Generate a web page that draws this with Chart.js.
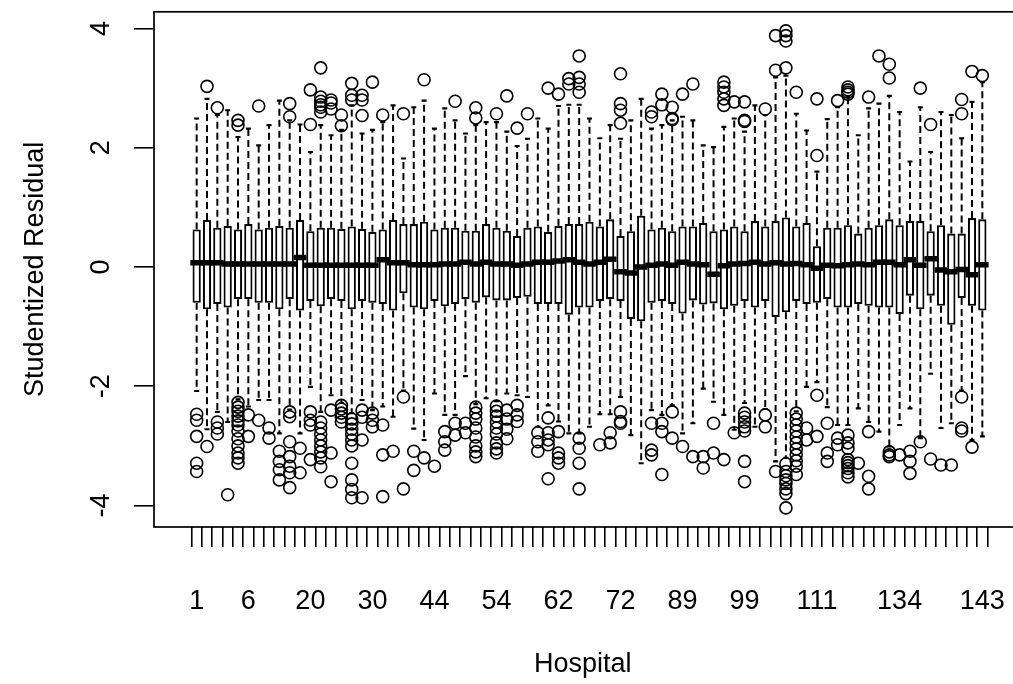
<!DOCTYPE html>
<html>
<head>
<meta charset="utf-8">
<script src="https://cdn.jsdelivr.net/npm/chart.js@4.4.0/dist/chart.umd.min.js"></script>
<style>
  html, body { margin: 0; padding: 0; background: #fff; overflow: hidden; }
  #wrap { position: relative; width: 1040px; height: 684px; }
</style>
</head>
<body>
<div id="wrap"><canvas id="c" width="1040" height="684"></canvas></div>
<script>
// Hospital identifiers, one box per hospital
const hospitals = [1,2,3,4,5,6,8,11,13,15,17,20,21,23,25,27,28,30,32,35,37,40,42,44,45,47,49,51,52,54,
  55,57,58,59,60,62,63,65,67,69,70,72,75,78,81,84,86,89,91,93,95,96,97,99,100,102,104,106,108,109,
  111,113,116,119,122,125,128,131,134,135,136,137,138,139,140,142,143];

// Hospitals whose id is printed under the axis
const shownLabels = [1,6,20,30,44,54,62,72,89,99,111,134,143];

const yTicks = [-4, -2, 0, 2, 4];

// Box statistics of the studentized residuals
const q3 = [0.63,0.79,0.66,0.69,0.63,0.72,0.63,0.66,0.69,0.66,
  0.79,0.60,0.66,0.66,0.64,0.68,0.64,0.59,0.63,0.79,
  0.72,0.72,0.76,0.63,0.66,0.66,0.61,0.61,0.72,0.66,
  0.61,0.52,0.66,0.68,0.59,0.69,0.72,0.72,0.76,0.68,
  0.80,0.52,0.60,0.86,0.63,0.66,0.60,0.68,0.68,0.74,
  0.60,0.63,0.68,0.60,0.77,0.68,0.77,0.83,0.68,0.74,
  0.35,0.66,0.66,0.70,0.56,0.66,0.70,0.80,0.70,0.77,
  0.77,0.60,0.70,0.56,0.56,0.82,0.80];

const q1 = [-0.60,-0.71,-0.62,-0.68,-0.54,-0.54,-0.60,-0.60,-0.71,-0.54,
  -0.73,-0.57,-0.66,-0.54,-0.57,-0.71,-0.57,-0.60,-0.62,-0.73,
  -0.44,-0.68,-0.71,-0.57,-0.66,-0.62,-0.54,-0.60,-0.51,-0.56,
  -0.56,-0.52,-0.50,-0.62,-0.62,-0.62,-0.80,-0.68,-0.68,-0.57,
  -0.54,-0.57,-0.87,-0.91,-0.60,-0.57,-0.62,-0.78,-0.56,-0.63,
  -0.61,-0.71,-0.65,-0.57,-0.68,-0.57,-0.84,-0.76,-0.57,-0.62,
  -0.60,-0.54,-0.68,-0.68,-0.62,-0.65,-0.68,-0.68,-0.79,-0.48,
  -0.71,-0.48,-0.65,-0.97,-0.52,-0.65,-0.73];

const medians = [0.07,0.07,0.07,0.05,0.05,0.05,0.05,0.05,0.05,0.05,
  0.16,0.03,0.03,0.03,0.03,0.03,0.03,0.03,0.12,0.07,
  0.07,0.04,0.04,0.04,0.05,0.05,0.08,0.05,0.08,0.05,
  0.05,0.03,0.05,0.08,0.08,0.10,0.12,0.08,0.05,0.08,
  0.13,-0.08,-0.10,0.00,0.03,0.05,0.03,0.08,0.05,0.04,
  -0.12,0.02,0.05,0.06,0.08,0.05,0.07,0.05,0.06,0.04,
  -0.02,0.03,0.02,0.04,0.05,0.04,0.08,0.08,0.04,0.12,
  0.03,0.14,-0.05,-0.08,-0.04,-0.13,0.04];

const whiskerHigh = [2.49,2.82,2.55,2.63,2.18,2.32,2.04,2.38,2.79,2.46,
  2.39,1.93,2.38,2.21,2.30,2.71,2.24,2.30,2.43,2.71,
  1.82,2.68,2.79,2.32,2.66,2.46,2.24,2.38,2.43,2.43,
  2.27,2.03,2.15,2.49,2.32,2.70,2.72,2.72,2.49,2.16,
  2.38,2.15,2.46,2.82,2.32,2.38,2.46,2.52,2.46,2.04,
  2.01,2.35,2.49,2.27,2.71,2.55,3.18,3.21,2.57,2.29,
  1.60,2.48,2.68,2.85,2.21,2.66,2.74,2.87,2.60,1.77,
  2.68,1.93,2.60,2.55,2.16,2.77,3.10];

const whiskerLow = [-2.08,-2.72,-2.43,-2.60,-2.22,-2.34,-2.23,-2.23,-2.79,-2.39,
  -2.79,-2.01,-2.43,-2.15,-2.28,-2.45,-2.23,-2.40,-2.34,-2.51,
  -2.07,-2.71,-2.90,-2.12,-2.48,-2.48,-1.83,-2.30,-2.20,-2.25,
  -2.12,-2.15,-2.18,-2.68,-2.32,-2.59,-2.79,-2.79,-2.68,-2.47,
  -2.47,-2.18,-2.82,-3.29,-2.40,-2.48,-2.32,-2.79,-2.62,-2.04,
  -2.26,-2.48,-2.73,-2.28,-2.68,-2.38,-3.26,-3.20,-2.42,-2.01,
  -1.93,-2.35,-2.65,-2.65,-2.37,-2.60,-2.76,-3.01,-2.65,-2.37,
  -2.87,-1.79,-2.70,-2.62,-2.07,-2.90,-2.84];

// Residuals beyond the whiskers, per hospital
const outliers = [
  [-2.47,-2.57,-2.84,-3.29,-3.43],
  [3.03,-3.01],
  [2.67,-2.60,-2.70,-2.80],
  [-3.82],
  [2.46,2.38,-2.27,-2.35,-2.42,-2.50,-2.58,-2.65,-2.75,-2.88,-3.00,-3.12,-3.20,-3.29],
  [-2.48,-2.84],
  [2.70,-2.57],
  [-2.70,-2.87],
  [-3.09,-3.26,-3.40,-3.57],
  [2.74,2.52,-2.43,-2.51,-2.93,-3.18,-3.34,-3.45,-3.70],
  [-3.04,-3.45],
  [2.97,2.39,-2.43,-2.57,-2.65,-3.23],
  [3.34,2.85,2.78,2.72,2.68,2.60,-2.60,-2.70,-2.80,-2.90,-3.00,-3.10,-3.20,-3.35],
  [2.80,2.75,2.65,-2.40,-3.12,-3.60],
  [2.55,2.37,-2.32,-2.38,-2.45,-2.52,-2.60],
  [3.08,2.88,2.80,-2.55,-2.63,-2.72,-2.80,-2.90,-3.00,-3.29,-3.57,-3.73,-3.87],
  [2.88,2.80,2.54,-2.40,-2.52,-2.90,-3.87],
  [3.10,-2.45,-2.57,-2.68],
  [2.55,-2.65,-3.15,-3.85],
  [-3.09],
  [2.57,-2.18,-3.72],
  [-3.09,-3.41],
  [3.14,-3.20],
  [-3.34],
  [-2.76,-2.93,-3.07],
  [2.78,-2.62,-2.82],
  [-2.62,-2.78],
  [2.67,2.50,-2.35,-2.45,-2.55,-2.70,-2.85,-3.00,-3.10,-3.18],
  [],
  [2.57,-2.33,-2.42,-2.50,-2.60,-2.70,-2.80,-2.95,-3.05,-3.12],
  [2.87,-2.40,-2.55,-2.72,-2.88],
  [2.33,-2.32,-2.48,-2.59],
  [2.57],
  [-2.78,-2.93,-3.09],
  [3.00,-2.53,-2.78,-2.90,-2.98,-3.55],
  [2.90,-2.76,-3.12,-3.20,-3.29],
  [3.16,3.07],
  [3.54,3.18,3.07,2.93,-2.87,-3.04,-3.29,-3.72],
  [],
  [-2.98],
  [-2.78,-2.95],
  [3.24,2.74,2.63,2.41,-2.43,-2.59,-2.62],
  [],
  [],
  [2.60,2.52,-2.62,-3.07,-3.15],
  [2.90,2.72,-2.62,-2.76,-3.48],
  [2.68,2.49,2.47,-2.43,-2.87],
  [2.90,-3.01],
  [3.07,-3.18],
  [-3.18,-3.37],
  [-2.62,-3.12],
  [3.10,3.02,2.93,2.82,2.71,-3.23],
  [2.77,-2.78],
  [2.77,2.46,2.44,-2.45,-2.52,-2.60,-2.68,-2.75,-3.26,-3.60],
  [],
  [2.65,-2.48,-2.68],
  [3.88,3.30,-3.43],
  [3.96,3.88,3.79,3.34,-3.30,-3.43,-3.50,-3.57,-3.63,-3.72,-3.80,-4.04],
  [2.93,-2.45,-2.55,-2.65,-2.75,-2.85,-2.95,-3.05,-3.15,-3.25,-3.34,-3.48],
  [-2.70,-2.90],
  [2.82,1.87,-2.15,-2.84],
  [-2.62,-3.12,-3.26],
  [2.79,-2.87,-2.98],
  [3.02,2.97,2.93,2.90,-2.82,-2.95,-3.04,-3.23,-3.28,-3.33,-3.38,-3.45,-3.52],
  [-3.29],
  [2.85,-2.76,-3.51,-3.72],
  [3.54],
  [3.40,3.17,-3.10,-3.15,-3.18],
  [-3.15],
  [-3.09,-3.26,-3.46],
  [3.00,-2.93],
  [2.39,-3.22],
  [-3.32],
  [-3.32],
  [2.81,2.57,-2.18,-2.70,-2.75],
  [3.28,-3.02],
  [3.21]
];

// ---- derived plotting data (positions 1..n along the x axis) ----
const n = hospitals.length;
const slot = i => i + 1;

const boxData = hospitals.map((h, i) => ({ x: slot(i), y: [q1[i], q3[i]] }));
const medianData = hospitals.map((h, i) => ({ x: slot(i), y: medians[i] }));
const whiskerData = [];
const stapleData = [];
hospitals.forEach((h, i) => {
  whiskerData.push({ x: slot(i), y: q3[i] }, { x: slot(i), y: whiskerHigh[i] }, { x: slot(i), y: null });
  whiskerData.push({ x: slot(i), y: q1[i] }, { x: slot(i), y: whiskerLow[i] }, { x: slot(i), y: null });
  stapleData.push({ x: slot(i), y: whiskerHigh[i] }, { x: slot(i), y: whiskerLow[i] });
});
const outlierData = [];
outliers.forEach((vals, i) => vals.forEach(v => outlierData.push({ x: slot(i), y: v })));

// R-style axis range: data range widened by 4% on each side
const pad = 0.04 * n + 0.5;
const allY = [].concat(...outliers, whiskerHigh, whiskerLow);
const yMin = Math.min(...allY), yMax = Math.max(...allY);
const ySpan = yMax - yMin;

const FONT = "'Liberation Sans', Arial, Helvetica, sans-serif";

// keep the plot region fixed: no extra room for edge labels
const noEdgePadding = s => { s.paddingLeft = 0; s.paddingRight = 0; s.paddingTop = 0; s.paddingBottom = 0; };

const framePlugin = {
  id: 'frame',
  afterDatasetsDraw(chart) {
    const { ctx, chartArea: a } = chart;
    ctx.save();
    ctx.strokeStyle = '#000';
    ctx.lineWidth = 1.7;
    ctx.strokeRect(a.left, a.top, a.right - a.left, a.bottom - a.top);
    ctx.restore();
  }
};

new Chart(document.getElementById('c'), {
  type: 'bar',
  data: {
    datasets: [
      {
        type: 'scatter', label: 'outliers', data: outlierData,
        pointStyle: 'circle', pointRadius: 6, pointBorderWidth: 1.6,
        borderColor: '#000', backgroundColor: 'rgba(0,0,0,0)', pointBackgroundColor: 'rgba(0,0,0,0)'
      },
      {
        type: 'scatter', label: 'median', data: medianData,
        pointStyle: 'line', pointRadius: 6.3, pointBorderWidth: 5.5, borderColor: '#000'
      },
      {
        type: 'scatter', label: 'staples', data: stapleData,
        pointStyle: 'line', pointRadius: 2.5, pointBorderWidth: 2.1, borderColor: '#000'
      },
      {
        type: 'line', label: 'whiskers', data: whiskerData,
        borderColor: '#000', borderWidth: 2, borderDash: [7, 4],
        pointRadius: 0, spanGaps: false, fill: false, tension: 0
      },
      {
        type: 'bar', label: 'boxes', data: boxData,
        backgroundColor: '#fff', borderColor: '#000', borderWidth: 2.1,
        borderSkipped: false, barPercentage: 0.8, categoryPercentage: 1.0
      }
    ]
  },
  options: {
    responsive: false,
    animation: false,
    events: [],
    layout: { padding: { top: 10, right: 15, left: 0, bottom: 0 } },
    plugins: { legend: { display: false }, tooltip: { enabled: false } },
    scales: {
      x: {
        type: 'linear',
        min: 1 - pad, max: n + pad,
        afterBuildTicks: s => { s.ticks = hospitals.map((h, i) => ({ value: slot(i) })); },
        afterFit: s => { s.height = 157; noEdgePadding(s); },
        grid: { drawOnChartArea: false, drawTicks: true, tickLength: 20, color: '#000', lineWidth: 1.6 },
        border: { display: false },
        ticks: {
          autoSkip: false, maxRotation: 0, minRotation: 0, padding: 38,
          color: '#000', font: { family: FONT, size: 27 },
          callback: v => {
            const h = hospitals[Math.round(v) - 1];
            return shownLabels.includes(h) ? String(h) : '';
          }
        },
        title: { display: true, text: 'Hospital\u2002', color: '#000', font: { family: FONT, size: 27 }, padding: { top: 0, bottom: 3 } }
      },
      y: {
        type: 'linear',
        min: yMin - 0.04 * ySpan, max: yMax + 0.04 * ySpan,
        afterBuildTicks: s => { s.ticks = yTicks.map(v => ({ value: v })); },
        afterFit: s => { s.width = 154; noEdgePadding(s); },
        grid: { drawOnChartArea: false, drawTicks: true, tickLength: 20, color: '#000', lineWidth: 1.6 },
        border: { display: false },
        ticks: {
          minRotation: 90, maxRotation: 90, crossAlign: 'center', padding: 20,
          color: '#000', font: { family: FONT, size: 27 },
          callback: v => String(v)
        },
        title: { display: true, text: 'Studentized Residual', color: '#000', font: { family: FONT, size: 27 }, padding: { top: 19, bottom: 0 } }
      }
    }
  },
  plugins: [framePlugin]
});
</script>
</body>
</html>
